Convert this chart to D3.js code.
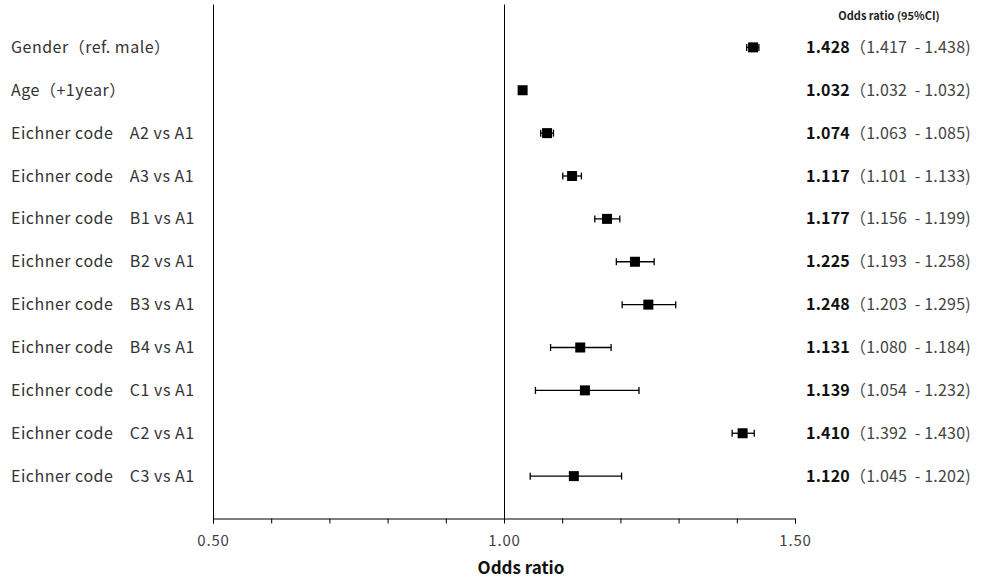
<!DOCTYPE html>
<html><head><meta charset="utf-8">
<script src="https://cdn.jsdelivr.net/npm/d3@7"></script>
<style>body{margin:0;background:#fff;} text{font-family:"Noto Sans CJK JP","Noto Sans",sans-serif;white-space:pre;}</style>
</head><body><svg id="c" width="986" height="588"></svg>
<script>
const labels = ["Gender（ref. male）","Age（+1year）","Eichner code　A2 vs A1","Eichner code　A3 vs A1","Eichner code　B1 vs A1","Eichner code　B2 vs A1","Eichner code　B3 vs A1","Eichner code　B4 vs A1","Eichner code　C1 vs A1","Eichner code　C2 vs A1","Eichner code　C3 vs A1"];
const orValues = [1.428,1.032,1.074,1.117,1.177,1.225,1.248,1.131,1.139,1.410,1.120];
const ciLow = [1.417,1.032,1.063,1.101,1.156,1.193,1.203,1.080,1.054,1.392,1.045];
const ciHigh = [1.438,1.032,1.085,1.133,1.199,1.258,1.295,1.184,1.232,1.430,1.202];
const tickLabels = [0.5,1.0,1.5];

const svg = d3.select("#c");
const x = d3.scaleLinear().domain([0.5,1.5]).range([213,795]);
const y = d3.scaleLinear().domain([-1,11]).range([4.5,519]);
const axisY = y(11);

// axis
const ax = d3.axisBottom(x).tickValues(d3.range(0.5,1.5001,0.1)).tickSize(5)
  .tickFormat(d => tickLabels.some(t=>Math.abs(t-d)<1e-6) ? d.toFixed(2) : "");
const g = svg.append("g").attr("transform",`translate(0,${Math.round(axisY)-0.5})`).call(ax);
g.select(".domain").attr("stroke","#000");
g.selectAll(".tick line").attr("stroke","#000");
g.selectAll(".tick text").attr("font-size",15).attr("letter-spacing",0.8).attr("fill","#404040").attr("y",14).attr("dy","0.9em")
  .style("font-family",'"Noto Sans CJK JP",sans-serif');

// vertical lines
svg.append("line").attr("x1",x(0.5)+0.5).attr("x2",x(0.5)+0.5).attr("y1",y(-1)).attr("y2",Math.round(axisY)).attr("stroke","#000");
svg.append("line").attr("x1",x(1)+0.5).attr("x2",x(1)+0.5).attr("y1",y(-1)).attr("y2",Math.round(axisY)).attr("stroke","#000");

svg.append("text").attr("x",521).attr("y",574).attr("text-anchor","middle").attr("font-size",17).attr("font-weight","bold").attr("fill","#111").text("Odds ratio");

// labels
svg.selectAll(".lab").data(labels).join("text").attr("class","lab")
  .attr("x",11).attr("y",(d,i)=>y(i)).attr("dy","0.35em").attr("font-size",16).attr("letter-spacing",0.5).attr("fill","#333").text(d=>d);

// CI
const rows = d3.range(labels.length);
svg.selectAll(".ci").data(rows).join("line").attr("x1",i=>x(ciLow[i])).attr("x2",i=>x(ciHigh[i]))
  .attr("y1",i=>y(i)).attr("y2",i=>y(i)).attr("stroke","#000").attr("stroke-width",1.3);
svg.selectAll(".capl").data(rows).join("line").attr("x1",i=>x(ciLow[i])).attr("x2",i=>x(ciLow[i]))
  .attr("y1",i=>y(i)-3.5).attr("y2",i=>y(i)+3.5).attr("stroke","#000").attr("stroke-width",1.3);
svg.selectAll(".caph").data(rows).join("line").attr("x1",i=>x(ciHigh[i])).attr("x2",i=>x(ciHigh[i]))
  .attr("y1",i=>y(i)-3.5).attr("y2",i=>y(i)+3.5).attr("stroke","#000").attr("stroke-width",1.3);
svg.selectAll(".pt").data(rows).join("rect").attr("x",i=>x(orValues[i])-5).attr("y",i=>y(i)-5)
  .attr("width",10).attr("height",10).attr("fill","#000");

// right text
svg.append("text").attr("x",889).attr("y",20).attr("text-anchor","middle").attr("font-size",11).attr("font-weight","bold").attr("fill","#222").text("Odds ratio (95%CI)");
const rt = svg.selectAll(".rt").data(rows).join("text").attr("x",806).attr("y",i=>y(i)).attr("dy","0.35em").attr("font-size",16).attr("letter-spacing",0.2);
rt.append("tspan").attr("font-weight","bold").attr("fill","#111").text(i=>orValues[i].toFixed(3));
rt.append("tspan").attr("fill","#444").text(i=>`（${ciLow[i].toFixed(3)}  - ${ciHigh[i].toFixed(3)})`);
</script></body></html>
